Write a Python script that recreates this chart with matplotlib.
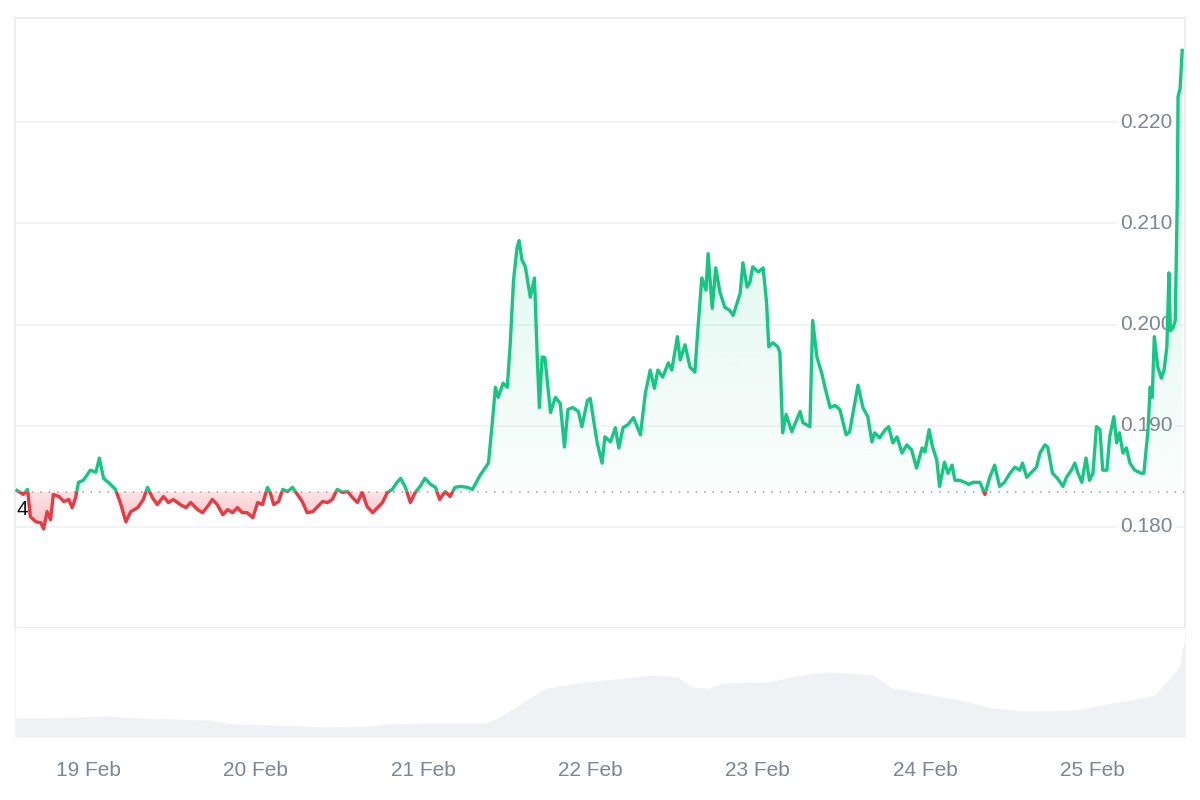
import matplotlib
matplotlib.use("Agg")
import matplotlib.pyplot as plt
import matplotlib.transforms as mtransforms
from matplotlib.path import Path
from matplotlib.patches import Rectangle
from matplotlib.colors import to_rgb
import numpy as np

# price series: hours since 18 Feb 00:00, price in USD
hours = [
    13.8, 14.7, 15.3, 15.7, 16.5, 17.2, 17.6, 18.1, 18.6, 19.0,
    19.8, 20.5, 21.2, 21.7, 22.2, 22.6, 23.3, 24.3, 25.1, 25.6,
    26.2, 27.2, 27.9, 28.6, 29.4, 30.1, 31.1, 31.9, 32.5, 33.2,
    33.9, 34.8, 35.5, 36.2, 37.2, 38.0, 38.7, 39.7, 40.4, 41.1,
    41.8, 42.5, 43.3, 44.0, 44.7, 45.4, 46.1, 46.8, 47.6, 48.3,
    49.0, 49.7, 50.1, 50.6, 51.3, 51.9, 52.6, 53.3, 54.0, 54.7,
    55.4, 56.2, 56.9, 57.6, 58.3, 59.0, 59.7, 60.5, 61.2, 61.9,
    62.6, 63.3, 64.0, 64.8, 65.5, 66.2, 66.9, 67.6, 68.3,
    68.8, 69.5, 70.2, 70.9, 71.6, 72.3, 73.1, 73.8, 74.4, 75.2,
    75.9, 76.6, 77.4, 78.4, 79.1, 79.5, 80.2, 80.9, 81.4, 81.9,
    82.4, 82.8, 83.5, 84.1, 84.5, 85.0, 85.5, 85.8, 86.2, 86.7,
    87.4, 88.0, 88.4, 88.7, 89.1, 89.5, 90.3, 91.0, 91.7, 92.3,
    92.8, 93.5, 94.3, 94.8, 95.6,
    96.0, 96.4, 97.0, 97.7, 98.1, 98.9, 99.6, 100.1, 100.7, 101.4,
    102.2, 103.2, 103.9, 104.6, 105.2, 105.7, 106.4, 107.2, 107.7, 108.5,
    108.9, 109.6, 110.3, 111.0, 111.5, 112.0, 112.6, 112.9, 113.5, 114.0,
    114.6, 115.3, 116.0, 116.5, 117.1, 117.5, 117.9, 118.5, 118.9, 119.3,
    120.1, 120.8, 121.3, 121.6, 122.2, 122.9,
    123.2, 123.6, 124.1, 124.9, 126.1, 126.5, 127.5, 127.9, 128.5, 129.2,
    129.7, 130.4, 131.1, 131.8, 132.7, 133.2, 133.7, 134.4, 135.1, 135.8,
    136.4, 136.8, 137.5, 138.3, 138.8, 139.4, 140.0, 140.7, 141.4, 142.1,
    142.8, 143.6, 144.0, 144.6, 145.1, 145.7, 146.1, 146.8, 147.3, 147.9,
    148.3, 149.0, 149.7, 150.3,
    150.9, 151.9, 152.6, 153.3, 154.0, 154.7, 155.4, 156.2, 156.9, 157.6,
    158.0, 158.6, 159.3, 160.0, 160.5, 161.2, 161.6, 162.3, 163.0, 163.8,
    164.3, 165.0, 165.5, 165.9, 166.5, 167.1, 167.6, 168.1, 168.6, 169.1,
    169.5, 170.1, 170.5, 171.1, 171.5, 171.9, 172.4, 172.9, 173.4, 174.1,
    175.0, 175.4, 176.0, 176.3, 176.6, 176.9, 177.4, 177.9, 178.3, 178.7,
    179.0, 179.2, 179.6, 179.9, 180.2, 180.3, 180.6, 180.9,
]

prices = [
    0.1836, 0.1832, 0.1837, 0.1810, 0.1805, 0.1804, 0.1798, 0.1815, 0.1807, 0.1832,
    0.1830, 0.1825, 0.1827, 0.1819, 0.1829, 0.1844, 0.1846, 0.1856, 0.1854, 0.1868,
    0.1848, 0.1842, 0.1837, 0.1824, 0.1805, 0.1815, 0.1819, 0.1827, 0.1839, 0.1829,
    0.1822, 0.1830, 0.1824, 0.1827, 0.1822, 0.1819, 0.1824, 0.1817, 0.1814, 0.1820,
    0.1827, 0.1822, 0.1812, 0.1817, 0.1814, 0.1819, 0.1814, 0.1814, 0.1809, 0.1824,
    0.1822, 0.1839, 0.1834, 0.1822, 0.1825, 0.1837, 0.1835, 0.1839, 0.1832, 0.1825,
    0.1814, 0.1815, 0.1820, 0.1825, 0.1824, 0.1827, 0.1837, 0.1834, 0.1835, 0.1829,
    0.1824, 0.1834, 0.1820, 0.1814, 0.1819, 0.1824, 0.1834, 0.1837, 0.1844,
    0.1848, 0.1839, 0.1824, 0.1834, 0.1840, 0.1848, 0.1842, 0.1839, 0.1827, 0.1835,
    0.1830, 0.1839, 0.1840, 0.1839, 0.1837, 0.1842, 0.1851, 0.1858, 0.1863, 0.1899,
    0.1938, 0.1928, 0.1942, 0.1938, 0.1978, 0.2044, 0.2076, 0.2083, 0.2064, 0.2057,
    0.2027, 0.2046, 0.1968, 0.1918, 0.1968, 0.1967, 0.1913, 0.1928, 0.1922, 0.1879,
    0.1916, 0.1918, 0.1914, 0.1899, 0.1925,
    0.1927, 0.1909, 0.1883, 0.1863, 0.1889, 0.1884, 0.1898, 0.1878, 0.1898, 0.1901,
    0.1908, 0.1891, 0.1932, 0.1955, 0.1937, 0.1955, 0.1948, 0.1962, 0.1955, 0.1988,
    0.1965, 0.1980, 0.1958, 0.1953, 0.2001, 0.2046, 0.2034, 0.2070, 0.2016, 0.2056,
    0.2032, 0.2017, 0.2014, 0.2009, 0.2022, 0.2031, 0.2061, 0.2037, 0.2042, 0.2057,
    0.2052, 0.2056, 0.2021, 0.1978, 0.1982, 0.1978,
    0.1972, 0.1893, 0.1911, 0.1894, 0.1914, 0.1903, 0.1899, 0.2004, 0.1968, 0.1952,
    0.1937, 0.1918, 0.1920, 0.1916, 0.1891, 0.1894, 0.1913, 0.1940, 0.1918, 0.1909,
    0.1884, 0.1893, 0.1888, 0.1896, 0.1899, 0.1883, 0.1889, 0.1873, 0.1881, 0.1876,
    0.1858, 0.1878, 0.1874, 0.1896, 0.1879, 0.1866, 0.1840, 0.1864, 0.1853, 0.1861,
    0.1846, 0.1846, 0.1844, 0.1842,
    0.1844, 0.1844, 0.1832, 0.1849, 0.1861, 0.1840, 0.1844, 0.1853, 0.1859, 0.1856,
    0.1863, 0.1849, 0.1854, 0.1859, 0.1873, 0.1881, 0.1879, 0.1853, 0.1848, 0.1840,
    0.1849, 0.1856, 0.1863, 0.1854, 0.1844, 0.1868, 0.1846, 0.1853, 0.1899, 0.1896,
    0.1856, 0.1856, 0.1889, 0.1909, 0.1883, 0.1893, 0.1873, 0.1878, 0.1863, 0.1856,
    0.1853, 0.1853, 0.1896, 0.1938, 0.1928, 0.1988, 0.1958, 0.1947, 0.1955, 0.1978,
    0.2051, 0.1994, 0.1997, 0.2004, 0.2126, 0.2225, 0.2234, 0.2271,
]

# trading volume (relative units)
vol_hours = [13.5, 18.0, 26.9, 31.2, 41.3, 44.6, 51.1, 57.7, 64.3, 66.6,
             73.2, 80.9, 83.1, 86.4, 89.7, 95.3, 99.6, 105.2, 108.5, 110.6,
             112.9, 115.0, 121.6, 124.9, 129.4, 133.8, 136.5, 139.3, 145.9, 150.3,
             153.6, 158.0, 165.8, 169.1, 173.5, 177.0, 180.5, 181.3]
volumes = [19, 19, 21, 19, 17, 13, 12, 10, 11, 13,
           14, 14, 20, 35, 49, 55, 58, 62, 60, 50,
           49, 54, 55, 60, 65, 64, 62, 49, 41, 35,
           29, 26, 27, 32, 37, 42, 70, 100]

base_price = 0.18345
base_label = "4"  # only the last digit of the reference price label is visible
price_ticks = [0.180, 0.190, 0.200, 0.210, 0.220]
day_labels = ["19 Feb", "20 Feb", "21 Feb", "22 Feb", "23 Feb", "24 Feb", "25 Feb"]

GREEN = "#16c784"
RED = "#ea3943"
GRID = "#eff1f4"
LABEL = "#7d8492"

assert len(hours) == len(prices)
t = np.array(hours)
p = np.array(prices)
x_min, x_max = 13.5, 181.3
y_min, y_max = 0.170, 0.2303

plt.rcParams["font.family"] = ["Liberation Sans", "DejaVu Sans"]

fig = plt.figure(figsize=(12, 8), dpi=100)
ax = fig.add_axes([0.0125, 0.215, 0.975, 0.7625])
axv = fig.add_axes([0.0125, 0.07875, 0.975, 0.13625])

# grid lines
for v in price_ticks:
    ax.axhline(v, color=GRID, lw=1.2, zorder=0.5)

# gradient fills between the price and the reference price
fill_path = Path(np.concatenate([np.column_stack([t, p]),
                                 np.column_stack([t[::-1], np.full(len(t), base_price)])]),
                 closed=True)

n = 256
g = np.zeros((n, 1, 4))
g[:, 0, :3] = to_rgb(GREEN)
g[:, 0, 3] = np.linspace(0.02, 0.2, n)
im_g = ax.imshow(g, extent=[x_min, x_max, base_price, p.max()], origin="lower",
                 aspect="auto", zorder=2, interpolation="bilinear")
im_g.set_clip_path(fill_path, ax.transData)

r = np.zeros((n, 1, 4))
r[:, 0, :3] = to_rgb(RED)
r[:, 0, 3] = np.linspace(0.3, 0.15, n)
im_r = ax.imshow(r, extent=[x_min, x_max, p.min(), base_price], origin="lower",
                 aspect="auto", zorder=2, interpolation="bilinear")
im_r.set_clip_path(fill_path, ax.transData)

# price line, green above the reference and red below it
line_g, = ax.plot(t, p, color=GREEN, lw=2.4, zorder=3, solid_joinstyle="round")
line_g.set_clip_path(Rectangle((x_min - 5, base_price), x_max - x_min + 10, 1.0,
                               transform=ax.transData))
line_r, = ax.plot(t, p, color=RED, lw=2.4, zorder=3, solid_joinstyle="round")
line_r.set_clip_path(Rectangle((x_min - 5, base_price - 1.0), x_max - x_min + 10, 1.0,
                               transform=ax.transData))

# reference price dotted line and its label at the left edge
trans = mtransforms.blended_transform_factory(ax.transAxes, ax.transData)
ax.axhline(base_price, color="#9aa1ad", lw=1.1, linestyle=(0, (1, 4.5)), zorder=2.5)
ax.text(0.001, base_price - 0.0008, base_label, transform=trans,
        ha="left", va="top", fontsize=15, color="#111111", zorder=4)

# y labels inside the plot on the right
for v in price_ticks:
    ax.text(0.989, v, f"{v:.3f}", transform=trans, ha="right", va="center",
            fontsize=15, color=LABEL, zorder=1,
            bbox=dict(boxstyle="square,pad=0.15", fc="white", ec="none"))

ax.set_xlim(x_min, x_max)
ax.set_ylim(y_min, y_max)
ax.set_xticks([])
ax.set_yticks([])
for s in ax.spines.values():
    s.set_color("#e8eaee")
    s.set_linewidth(1.2)

# volume panel
axv.fill_between(vol_hours, volumes, 0, color="#eff1f5", lw=0)
axv.set_xlim(x_min, x_max)
axv.set_ylim(0, 109)
axv.set_yticks([])
axv.set_xticks([24 * (i + 1) for i in range(len(day_labels))])
axv.set_xticklabels(day_labels, fontsize=15, color=LABEL)
axv.tick_params(axis="x", length=0, pad=17)
for name, s in axv.spines.items():
    s.set_color("#f3f4f6")
    s.set_visible(name in ("left", "right"))

fig.savefig("out.png", dpi=100, facecolor="white")
